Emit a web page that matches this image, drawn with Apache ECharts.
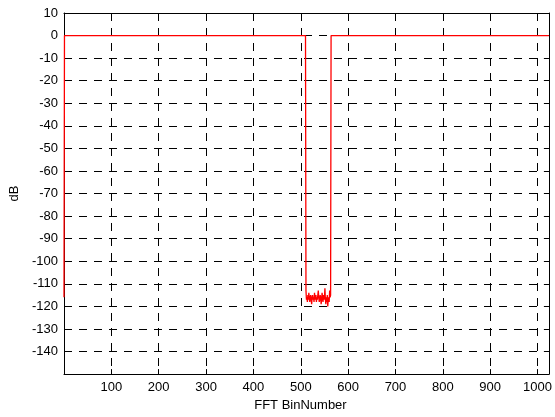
<!DOCTYPE html>
<html>
<head>
<meta charset="utf-8">
<script src="https://cdn.jsdelivr.net/npm/echarts@6/dist/echarts.min.js"></script>
<style>html,body{margin:0;padding:0;background:#fff}#c{width:555px;height:417px}</style>
</head>
<body>
<div id="c"></div>
<script>
// Data
const xTickLabels = [100, 200, 300, 400, 500, 600, 700, 800, 900, 1000];
const yTickLabels = [10, 0, -10, -20, -30, -40, -50, -60, -70, -80, -90, -100, -110, -120, -130, -140];
const passBins = [[0, -116], [1, 0], [510, 0]];
const notchStart = 511;
const notchValues = [-113,-117,-116,-118,-115,-117,-114,-116,-118,-116,-115,-117,-119,-116,-115,-117,-116,-118,-114,-116,-117,-115,-118,-116,-117,-115,-113,-116,-118,-117,-115,-116,-119,-117,-114,-116,-118,-115,-117,-116,-112,-117,-119,-116,-118,-115,-120,-117,-116,-118,-113,-116,-115];
const tailBins = [[564, 0], [1024, 0]];

const seriesData = passBins.concat(notchValues.map((v, i) => [notchStart + i, v]), tailBins);

const font = 'Liberation Sans, Arial, sans-serif';
const gridDash = {show: true, lineStyle: {color: '#000', type: [8, 7], width: 1}};
const axisLineStyle = {show: true, onZero: false, lineStyle: {color: '#000', width: 1}};
const tickStyle = {show: true, inside: true, length: 5, lineStyle: {color: '#000'}};
const chart = echarts.init(document.getElementById('c'));
chart.setOption({
  animation: false,
  grid: {left: 64, right: 1, top: 13, bottom: 41},
  xAxis: [{
    type: 'value', min: 0, max: 1024, interval: 100,
    name: 'FFT BinNumber', nameLocation: 'middle', nameGap: 22,
    nameTextStyle: {fontFamily: font, fontSize: 13, color: '#000', padding: [0, 12, 0, 0]},
    axisLine: axisLineStyle,
    axisTick: tickStyle,
    axisLabel: {fontFamily: font, fontSize: 13, color: '#000', margin: 7,
      formatter: v => xTickLabels.indexOf(v) >= 0 ? String(v) : ''},
    splitLine: gridDash
  }, {
    type: 'value', position: 'top', min: 0, max: 1024, interval: 100,
    axisLine: axisLineStyle,
    axisTick: tickStyle,
    axisLabel: {show: false}, splitLine: {show: false}
  }],
  yAxis: [{
    type: 'value', min: -150, max: 10, interval: 10,
    name: 'dB', nameLocation: 'middle', nameGap: 40,
    nameTextStyle: {fontFamily: font, fontSize: 13, color: '#000'},
    axisLine: axisLineStyle,
    axisTick: tickStyle,
    axisLabel: {fontFamily: font, fontSize: 13, color: '#000', margin: 6,
      formatter: v => yTickLabels.indexOf(v) >= 0 ? String(v) : ''},
    splitLine: gridDash
  }, {
    type: 'value', position: 'right', min: -150, max: 10, interval: 10,
    axisLine: axisLineStyle,
    axisTick: tickStyle,
    axisLabel: {show: false}, splitLine: {show: false}
  }],
  series: [{
    type: 'line', data: seriesData, showSymbol: false, symbol: 'none',
    lineStyle: {color: '#ff0000', width: 1.3}, z: 5, clip: true
  }]
});
</script>
</body>
</html>
